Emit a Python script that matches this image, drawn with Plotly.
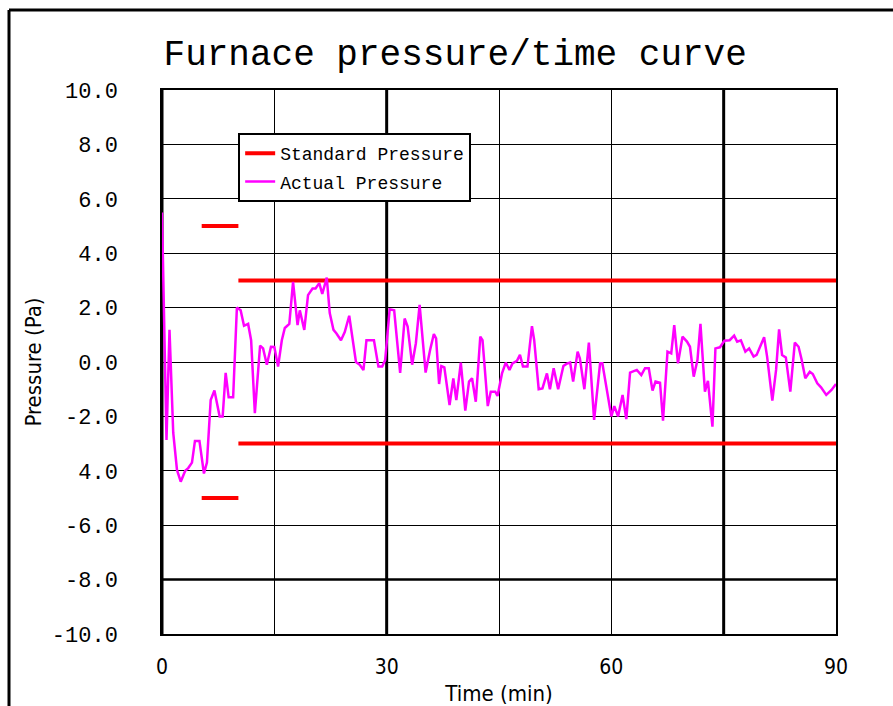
import plotly.graph_objects as go

# Actual pressure (time in min, pressure in Pa)
act_t = [0.0, 0.6, 1.0, 1.5, 2.0, 2.5, 3.1, 3.5, 4.0, 4.4, 5.0, 5.6, 6.0, 6.5, 7.0, 7.7, 8.1, 8.5, 8.9, 9.5,
         10.0, 10.5, 10.95, 11.5, 11.9, 12.4, 13.1, 13.5, 14.0, 14.55, 15.0, 15.5, 16.0, 16.4, 17.0, 17.5, 18.1,
         18.4, 19.0, 19.5, 20.1, 20.5, 21.0, 21.4, 22.0, 22.4, 22.9, 23.3, 23.9, 24.4, 25.0, 25.5, 25.9, 26.4,
         26.9, 27.3, 28.3, 28.9, 29.4, 29.8, 30.4, 31.0, 31.8, 32.4, 32.8, 33.4, 33.9, 34.4, 35.2, 35.8, 36.3,
         36.6, 37.0, 37.3, 37.7, 38.4, 38.9, 39.3, 39.9, 40.5, 41.0, 41.4, 41.9, 42.5, 42.8, 43.5, 43.9, 44.5,
         44.8, 45.4, 45.9, 46.4, 46.8, 47.4, 47.8, 48.2, 48.8, 49.4, 49.7, 50.3, 50.8, 51.4, 51.8, 52.3, 52.9,
         53.6, 54.0, 54.5, 54.9, 55.5, 55.8, 56.4, 57.0, 57.7, 58.5, 58.8, 59.3, 60.0, 60.4, 60.9, 61.5, 62.0,
         62.5, 63.1, 63.4, 64.0, 64.5, 65.0, 65.5, 65.9, 66.5, 66.9, 67.5, 68.0, 68.4, 68.9, 69.5, 70.1, 70.5,
         71.0, 71.5, 71.9, 72.5, 72.9, 73.5, 73.9, 74.5, 75.1, 75.8, 76.4, 76.8, 77.3, 77.9, 78.4, 79.0, 79.4,
         79.8, 80.4, 80.8, 81.5, 82.0, 82.4, 82.8, 83.3, 83.9, 84.5, 85.0, 85.4, 85.9, 86.5, 86.9, 87.5, 88.0,
         88.7, 89.4, 90.0]
act_p = [5.5, -2.87, 1.18, -2.6, -3.97, -4.4, -4.0, -3.9, -3.7, -2.9, -2.9, -4.1, -3.7, -1.4, -1.05, -2.0, -2.0,
         -0.4, -1.3, -1.3, 2.0, 1.9, 1.33, 1.4, 0.8, -1.88, 0.6, 0.5, -0.1, 0.56, 0.55, -0.17, 0.8, 1.25, 1.4,
         2.95, 1.36, 1.9, 1.18, 2.46, 2.7, 2.7, 2.9, 2.5, 3.1, 1.8, 1.18, 1.05, 0.8, 1.1, 1.7, 0.69, 0.0, -0.1,
         -0.3, 0.8, 0.8, -0.17, -0.17, 0.07, 1.94, 1.9, -0.4, 1.6, 1.3, -0.1, 0.69, 2.1, -0.39, 0.44, 1.03,
         0.87, -0.81, -0.15, -0.2, -1.58, -0.6, -1.4, -0.02, -1.79, -0.72, -0.6, -1.46, 0.93, 0.8, -1.62, -1.09,
         -1.09, -1.25, -0.42, -0.02, -0.29, -0.05, 0.04, 0.26, -0.17, -0.17, 1.32, 0.8, -1.0, -0.97, -0.42, -1.0,
         -0.23, -1.0, -0.15, -0.07, -0.02, -0.72, 0.38, 0.13, -1.0, 0.71, -2.13, -0.05, -0.05, -0.93, -2.0, -1.62,
         -2.0, -1.21, -2.1, -0.39, -0.33, -0.29, -0.48, -0.23, -0.23, -1.05, -0.72, -0.76, -2.16, 0.38, 0.32,
         1.36, -0.05, 0.93, 0.75, 0.56, -0.54, 0.07, 1.4, -1.09, -0.69, -2.38, 0.5, 0.54, 0.78, 0.8, 0.97, 0.75,
         0.8, 0.38, 0.5, 0.2, 0.26, 0.5, 0.91, 0.2, -1.42, -0.29, 1.2, 0.26, 0.17, -1.09, 0.71, 0.56, 0.1, -0.6,
         -0.36, -0.44, -0.78, -0.93, -1.21, -1.03, -0.81]

# Standard pressure limits (segments separated by None)
std_t = [5.3, 10.2, None, 5.3, 10.2, None, 10.2, 90, None, 10.2, 90]
std_p = [5, 5, None, -5, -5, None, 3, 3, None, -3, -3]

y_tickvals = [10, 8, 6, 4, 2, 0, -2, -4, -6, -8, -10]
y_ticktext = ["10.0", "8.0", "6.0", "4.0", "2.0", "0.0", "-2.0", "4.0", "-6.0", "-8.0", "-10.0"]
x_tickvals = [0, 30, 60, 90]
x_ticktext = ["0", "30", "60", "90"]

mono = "Liberation Mono, Courier New, monospace"
narrow = "Liberation Sans Narrow, DejaVu Sans Condensed, Arial Narrow, sans-serif"

fig = go.Figure()
fig.add_trace(go.Scatter(x=std_t, y=std_p, mode="lines", name="Standard Pressure",
                         line=dict(color="#FF0000", width=4), legendgroup="a"))
fig.add_trace(go.Scatter(x=act_t, y=act_p, mode="lines", name="Actual Pressure",
                         line=dict(color="#FF00FF", width=2.5), legendgroup="b"))

fig.update_layout(
    width=893, height=706,
    margin=dict(l=162, r=57, t=90, b=72),
    paper_bgcolor="white", plot_bgcolor="white",
    showlegend=True,
    title=dict(text="Furnace pressure/time curve", x=0.435, xref="paper", y=1 - 52 / 706,
               yanchor="middle", xanchor="center",
               font=dict(family=mono, size=36, color="black")),
    legend=dict(x=0.113, y=0.921, xanchor="left", yanchor="top", bgcolor="white",
                bordercolor="black", borderwidth=2, tracegroupgap=2, entrywidth=220,
                font=dict(family=mono, size=18, color="black")),
    xaxis=dict(range=[0, 90], tickvals=x_tickvals, ticktext=x_ticktext, automargin=False,
               showgrid=True, gridcolor="black", gridwidth=1,
               minor=dict(dtick=15, showgrid=True, gridcolor="black", gridwidth=1),
               showline=True, linecolor="black", linewidth=1.5, mirror=True,
               zeroline=False, ticks="", ticklabelstandoff=13,
               tickfont=dict(family=narrow, size=21, color="black"),
               title=dict(text="Time (min)", standoff=8,
                          font=dict(family=narrow, size=22, color="black"))),
    yaxis=dict(range=[-10, 10], tickvals=y_tickvals, ticktext=y_ticktext, automargin=False,
               showgrid=True, gridcolor="black", gridwidth=1,
               showline=True, linecolor="black", linewidth=1.5, mirror=True,
               zeroline=False, ticks="", ticklabelstandoff=38,
               tickfont=dict(family=mono, size=22, color="black"),
               title=dict(text="Pressure (Pa)", standoff=4,
                          font=dict(family=narrow, size=22, color="black"))),
)

# heavier grid lines
for xv in [30, 75]:
    fig.add_shape(type="line", xref="x", yref="paper", x0=xv, x1=xv, y0=0, y1=1,
                  line=dict(color="black", width=3), layer="between")
fig.add_shape(type="line", xref="paper", yref="y", x0=0, x1=1, y0=-8, y1=-8,
              line=dict(color="black", width=2.5), layer="between")
fig.add_shape(type="line", xref="paper", yref="paper", x0=0, x1=0, y0=0, y1=1,
              line=dict(color="black", width=3), layer="between")

# outer frame (top and left edges)
fig.add_shape(type="line", xref="paper", yref="paper", x0=-0.227, x1=1.2, y0=1.147, y1=1.147,
              line=dict(color="black", width=3))
fig.add_shape(type="line", xref="paper", yref="paper", x0=-0.227, x1=-0.227, y0=-0.2, y1=1.147,
              line=dict(color="black", width=3))

fig.write_html("out.html")
